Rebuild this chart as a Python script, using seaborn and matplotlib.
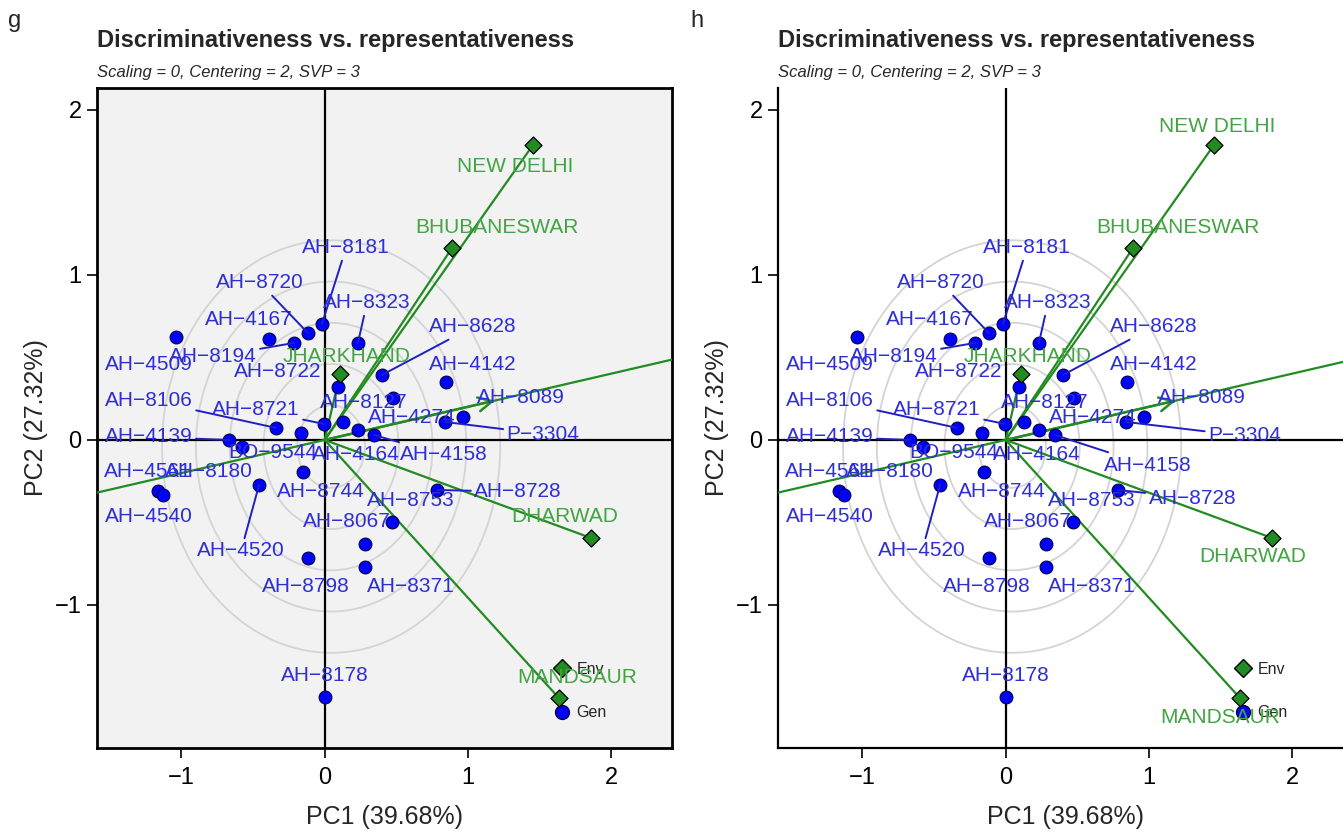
import numpy as np
import pandas as pd
import matplotlib
matplotlib.use("Agg")
import matplotlib.pyplot as plt
import seaborn as sns
from matplotlib.lines import Line2D
from matplotlib.patches import Ellipse

# ---------------- data ----------------
gen_names = ["AH-4509", "AH-4167", "AH-8194", "AH-8720", "AH-8181", "AH-8323",
             "AH-8628", "AH-8722", "AH-8127", "AH-8106", "AH-8721", "AH-4164",
             "AH-4274", "AH-4158", "AH-4139", "AH-8180", "BO-9544", "AH-8744",
             "AH-4520", "AH-4561", "AH-4540", "AH-8728", "AH-8753", "AH-8067",
             "AH-8371", "AH-8798", "AH-8178", "AH-4142", "P-3304", "AH-8089"]
gen_pc1 = [-1.038, -0.389, -0.214, -0.117, -0.019, 0.232,
           0.400, 0.093, 0.477, -0.340, -0.005, 0.128,
           0.232, 0.344, -0.668, -0.577, -0.165, -0.151,
           -0.458, -1.163, -1.128, 0.784, 0.470, 0.281,
           0.281, -0.117, 0.002, 0.847, 0.840, 0.965]
gen_pc2 = [0.624, 0.612, 0.588, 0.648, 0.703, 0.588,
           0.394, 0.321, 0.255, 0.073, 0.097, 0.109,
           0.061, 0.030, 0.000, -0.042, 0.042, -0.194,
           -0.273, -0.309, -0.333, -0.303, -0.497, -0.630,
           -0.770, -0.715, -1.558, 0.352, 0.109, 0.139]

env_names = ["NEW DELHI", "BHUBANESWAR", "JHARKHAND", "DHARWAD", "MANDSAUR"]
env_pc1 = [1.454, 0.889, 0.107, 1.858, 1.635]
env_pc2 = [1.788, 1.164, 0.400, -0.594, -1.564]

circle_center = (0.045, -0.04)
circle_rx = [0.236, 0.472, 0.708, 0.944, 1.180]
circle_ry = [0.250, 0.500, 0.750, 1.000, 1.250]
x_ticks = [-1, 0, 1, 2]
y_ticks = [-1, 0, 1, 2]
title_text = "Discriminativeness vs. representativeness"
subtitle_text = "Scaling = 0, Centering = 2, SVP = 3"
x_label = "PC1 (39.68%)"
y_label = "PC2 (27.32%)"
panel_letters = ["g", "h"]
legend_labels = ["Env", "Gen"]

# ---------------- label placement (repel-like) ----------------
gen_label_xy = {
    "AH-8181": (0.149, 1.164), "AH-8720": (-0.452, 0.952), "AH-8323": (0.295, 0.830),
    "AH-4167": (-0.528, 0.727), "AH-8628": (1.033, 0.685), "AH-4509": (-1.226, 0.455),
    "AH-8194": (-0.780, 0.503), "AH-8722": (-0.326, 0.412), "AH-4142": (1.033, 0.455),
    "AH-8106": (-1.226, 0.242), "AH-8721": (-0.479, 0.182), "AH-8127": (0.274, 0.224),
    "AH-8089": (1.370, 0.255), "AH-4274": (0.609, 0.139), "P-3304": (1.523, 0.036),
    "AH-4139": (-1.226, 0.018), "BO-9544": (-0.361, -0.079), "AH-4164": (0.218, -0.091),
    "AH-4158": (0.832, -0.091), "AH-4561": (-1.233, -0.194), "AH-8180": (-0.807, -0.194),
    "AH-8744": (-0.026, -0.315), "AH-8728": (1.349, -0.315), "AH-8753": (0.602, -0.364),
    "AH-4540": (-1.226, -0.467), "AH-8067": (0.156, -0.497), "AH-4520": (-0.584, -0.673),
    "AH-8798": (-0.130, -0.891), "AH-8371": (0.602, -0.891), "AH-8178": (0.002, -1.430),
}
gen_label_xy_h = dict(gen_label_xy)
gen_label_xy_h.update({"P-3304": (1.666, 0.024), "AH-4158": (0.990, -0.152),
                       "AH-8728": (1.303, -0.352)})
leaders = {"AH-8181", "AH-8720", "AH-8323", "AH-8194", "AH-8628", "AH-8106",
           "AH-8721", "AH-4139", "AH-4158", "AH-4520", "P-3304", "AH-8728"}
env_label_xy_g = {"NEW DELHI": (1.328, 1.655), "BHUBANESWAR": (1.203, 1.285),
                  "JHARKHAND": (0.156, 0.503), "DHARWAD": (1.677, -0.467),
                  "MANDSAUR": (1.762, -1.442)}
env_label_xy_h = {"NEW DELHI": (1.477, 1.897), "BHUBANESWAR": (1.199, 1.285),
                  "JHARKHAND": (0.153, 0.503), "DHARWAD": (1.721, -0.709),
                  "MANDSAUR": (1.498, -1.685)}

# ---------------- style ----------------
sns.set_style("white")
plt.rcParams["font.family"] = ["Liberation Sans", "DejaVu Sans"]

GREEN = "#228B22"
ENV_TXT = "#42a442"
BLUE = "#0000ff"
GEN_TXT = "#2e2ed6"

W, H = 1343, 834
fig = plt.figure(figsize=(W / 100, H / 100), dpi=100)
ax_g = fig.add_axes([97 / W, 1 - 748 / H, 575 / W, 660 / H])
ax_h = fig.add_axes([778 / W, 1 - 748 / H, 575 / W, 660 / H])

gen_df = pd.DataFrame({"name": gen_names, "PC1": gen_pc1, "PC2": gen_pc2})
env_df = pd.DataFrame({"name": env_names, "PC1": env_pc1, "PC2": env_pc2})
med1 = float(np.mean(env_pc1))
med2 = float(np.mean(env_pc2))


def draw(ax, boxed, gen_lbl, env_lbl):
    ax.set_xlim(-1.589, 2.424)
    ax.set_ylim(-1.867, 2.133)
    ax.set_facecolor("#f2f2f2" if boxed else "white")
    for rx, ry in zip(circle_rx, circle_ry):
        ax.add_patch(Ellipse(circle_center, 2 * rx, 2 * ry, fill=False,
                             ec="#d4d4d4", lw=1.3, zorder=1))
    ax.axhline(0, color="black", lw=1.6, zorder=2)
    ax.axvline(0, color="black", lw=1.6, zorder=2)
    for _, row in env_df.iterrows():
        ax.plot([0, row.PC1], [0, row.PC2], color=GREEN, lw=1.6, zorder=3)
    ax.axline((0, 0), (med1, med2), color=GREEN, lw=1.6, zorder=3)
    ax.annotate("", xy=(med1, med2), xytext=(0, 0),
                arrowprops=dict(arrowstyle="->,head_length=0.5,head_width=0.25",
                                color=GREEN, lw=1.8, mutation_scale=20,
                                shrinkA=0, shrinkB=0), zorder=3)
    sns.scatterplot(data=gen_df, x="PC1", y="PC2", ax=ax, color=BLUE, marker="o",
                    s=85, edgecolor="#000040", linewidth=0.8, zorder=5, legend=False)
    sns.scatterplot(data=env_df, x="PC1", y="PC2", ax=ax, color=GREEN, marker="D",
                    s=75, edgecolor="black", linewidth=0.9, zorder=6, legend=False)
    for _, row in gen_df.iterrows():
        lx, ly = gen_lbl[row["name"]]
        disp = row["name"].replace("-", "\u2212")
        ap = None
        if row["name"] in leaders:
            ap = dict(arrowstyle="-", color="#2020c0", lw=1.4, shrinkA=0, shrinkB=0)
        ax.annotate(disp, xy=(row.PC1, row.PC2), xytext=(lx, ly), ha="center",
                    va="center", fontsize=15, color=GEN_TXT, arrowprops=ap, zorder=7)
    for _, row in env_df.iterrows():
        lx, ly = env_lbl[row["name"]]
        ax.text(lx, ly, row["name"], ha="center", va="center", fontsize=15,
                color=ENV_TXT, zorder=7)
    ax.set_xticks(x_ticks)
    ax.set_yticks(y_ticks)
    ax.tick_params(axis="x", direction="out", length=7, width=1.2, labelsize=17,
                   pad=7, colors="black", bottom=True)
    ax.tick_params(axis="y", direction="out", length=7, width=1.2, labelsize=17,
                   pad=4, colors="black", left=True)
    ax.set_xlabel(x_label, fontsize=18, labelpad=11)
    ax.set_ylabel(y_label, fontsize=18, labelpad=5)
    for side in ["left", "bottom", "top", "right"]:
        sp = ax.spines[side]
        sp.set_color("black")
        sp.set_linewidth(2.0 if boxed else 1.6)
        if not boxed and side in ("top", "right"):
            sp.set_visible(False)
    handles = [Line2D([], [], marker="D", linestyle="none", markerfacecolor=GREEN,
                      markeredgecolor="black", markersize=9, label=legend_labels[0]),
               Line2D([], [], marker="o", linestyle="none", markerfacecolor=BLUE,
                      markeredgecolor="#000040", markersize=10, label=legend_labels[1])]
    ax.legend(handles=handles, loc="lower left", bbox_to_anchor=(0.770, 0.020),
              frameon=False, fontsize=11.5, labelspacing=1.8, handlelength=1.0,
              handletextpad=0.4, borderpad=0.4)


draw(ax_g, True, gen_label_xy, env_label_xy_g)
draw(ax_h, False, gen_label_xy_h, env_label_xy_h)

for px in [97, 778]:
    fig.text(px / W, 1 - 40 / H, title_text, fontsize=17, fontweight="bold",
             ha="left", va="center")
    fig.text(px / W, 1 - 72 / H, subtitle_text, fontsize=12, style="italic",
             ha="left", va="center")
fig.text(8 / W, 1 - 21 / H, panel_letters[0], fontsize=17, ha="left", va="center")
fig.text(690 / W, 1 - 21 / H, panel_letters[1], fontsize=17, ha="left", va="center")

fig.savefig("out.png", dpi=100)
